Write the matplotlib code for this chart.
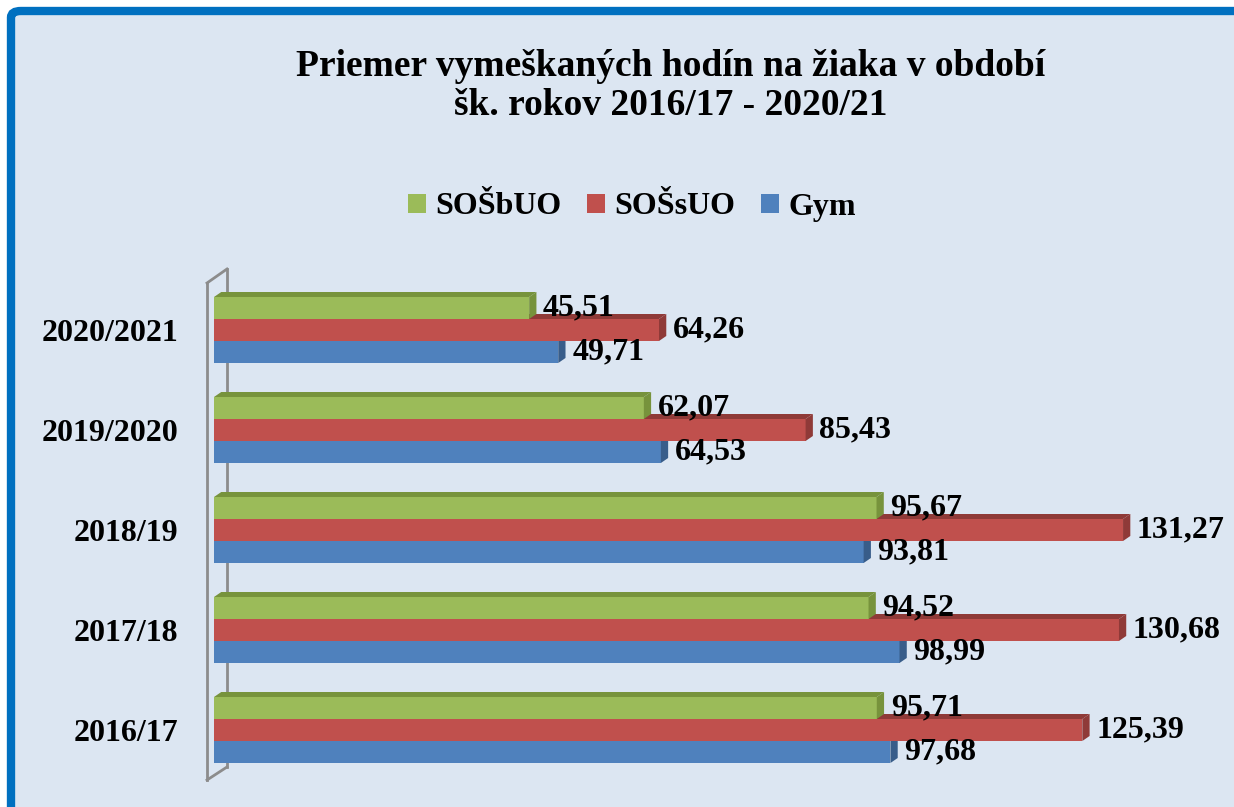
import numpy as np
import matplotlib
matplotlib.use('Agg')
import matplotlib.pyplot as plt
from matplotlib.patches import FancyBboxPatch
from matplotlib.lines import Line2D

# data (school years bottom -> top, as drawn)
years = ['2016/17', '2017/18', '2018/19', '2019/2020', '2020/2021']
gym = [97.68, 98.99, 93.81, 64.53, 49.71]
sossuo = [125.39, 130.68, 131.27, 85.43, 64.26]
sosbuo = [95.71, 94.52, 95.67, 62.07, 45.51]
series_names = ['SOŠbUO', 'SOŠsUO', 'Gym']

title = 'Priemer vymeškaných hodín na žiaka v období\nšk. rokov 2016/17 - 2020/21'

# styles: face colour, darker colour for top/side faces
c_green = ('#9BBB59', '#77933C')
c_red = ('#C0504D', '#8F3A38')
c_blue = ('#4F81BD', '#385D8A')

W, H = 1234, 807
plt.rcParams['font.family'] = ['Liberation Serif', 'DejaVu Serif']
plt.rcParams['font.weight'] = 'bold'

fig = plt.figure(figsize=(W / 100, H / 100), dpi=100)
fig.patch.set_facecolor('white')

# chart frame: light blue fill with thick blue rounded border
frame = FancyBboxPatch((11 / W, 1 - 840 / H), 1260 / W, 829 / H,
                       boxstyle='round,pad=0,rounding_size=0.008',
                       transform=fig.transFigure, facecolor='#DCE6F2',
                       edgecolor='#0070C0', linewidth=6, zorder=-1)
fig.patches.append(frame)

fig.text(671 / W, 1 - 86 / H, title, ha='center', va='center',
         fontsize=27, fontweight='bold', linespacing=1.12)

# plot area
x_left, x_right = 214, 1183.5
y_top, y_bot = 280, 780
ax = fig.add_axes([x_left / W, 1 - y_bot / H, (x_right - x_left) / W, (y_bot - y_top) / H])
ax.set_facecolor('none')
ax.set_xlim(0, 140)
ax.set_ylim(-0.5, len(years) - 0.5)
for s in ax.spines.values():
    s.set_visible(False)
ax.set_xticks([])
y = np.arange(len(years))
ax.set_yticks(y)
ax.set_yticklabels(years, fontsize=23, fontweight='bold')
ax.tick_params(axis='y', length=0, pad=26)

# back wall (thin 3D wall on the left)
wall = [((-0.0072, 0.994), (-0.0072, 0.0)),
        ((-0.0072, 0.0), (0.0134, 0.026)),
        ((-0.0072, 0.994), (0.0134, 1.022)),
        ((0.0134, 1.022), (0.0134, 0.026))]
for (x0, y0), (x1, y1) in wall:
    ax.add_line(Line2D([x0, x1], [y0, y1], transform=ax.transAxes,
                       color='#8C8C8C', lw=2, clip_on=False, zorder=1))

bh = 0.22
DX, DY = 1.05, 0.05   # depth of the 3D effect in data units


def bars3d(vals, off, cols, z):
    cont = ax.barh(y + off, vals, height=bh, color=cols[0], zorder=z, linewidth=0)
    for yi, v in zip(y + off, vals):
        top, bot = yi + bh / 2, yi - bh / 2
        ax.fill([0, DX, v + DX, v], [top, top + DY, top + DY, top],
                color=cols[1], zorder=z, lw=0)
        ax.fill([v, v + DX, v + DX, v], [bot, bot + DY, top + DY, top],
                color=cols[1], zorder=z, lw=0)
    ax.bar_label(cont, labels=[f'{v:.2f}'.replace('.', ',') for v in vals],
                 padding=10, fontsize=23, fontweight='bold', zorder=z + 5)
    return cont


h_blue = bars3d(gym, -bh, c_blue, 2)
h_red = bars3d(sossuo, 0, c_red, 3)
h_green = bars3d(sosbuo, bh, c_green, 4)

fig.legend([h_green, h_red, h_blue], series_names, loc='center',
           bbox_to_anchor=(632 / W, 1 - 207 / H), ncol=3, frameon=False,
           prop={'size': 23, 'weight': 'bold'},
           handlelength=0.55, handleheight=0.55, handletextpad=0.3,
           columnspacing=0.8)

fig.savefig('out.png', dpi=100)
